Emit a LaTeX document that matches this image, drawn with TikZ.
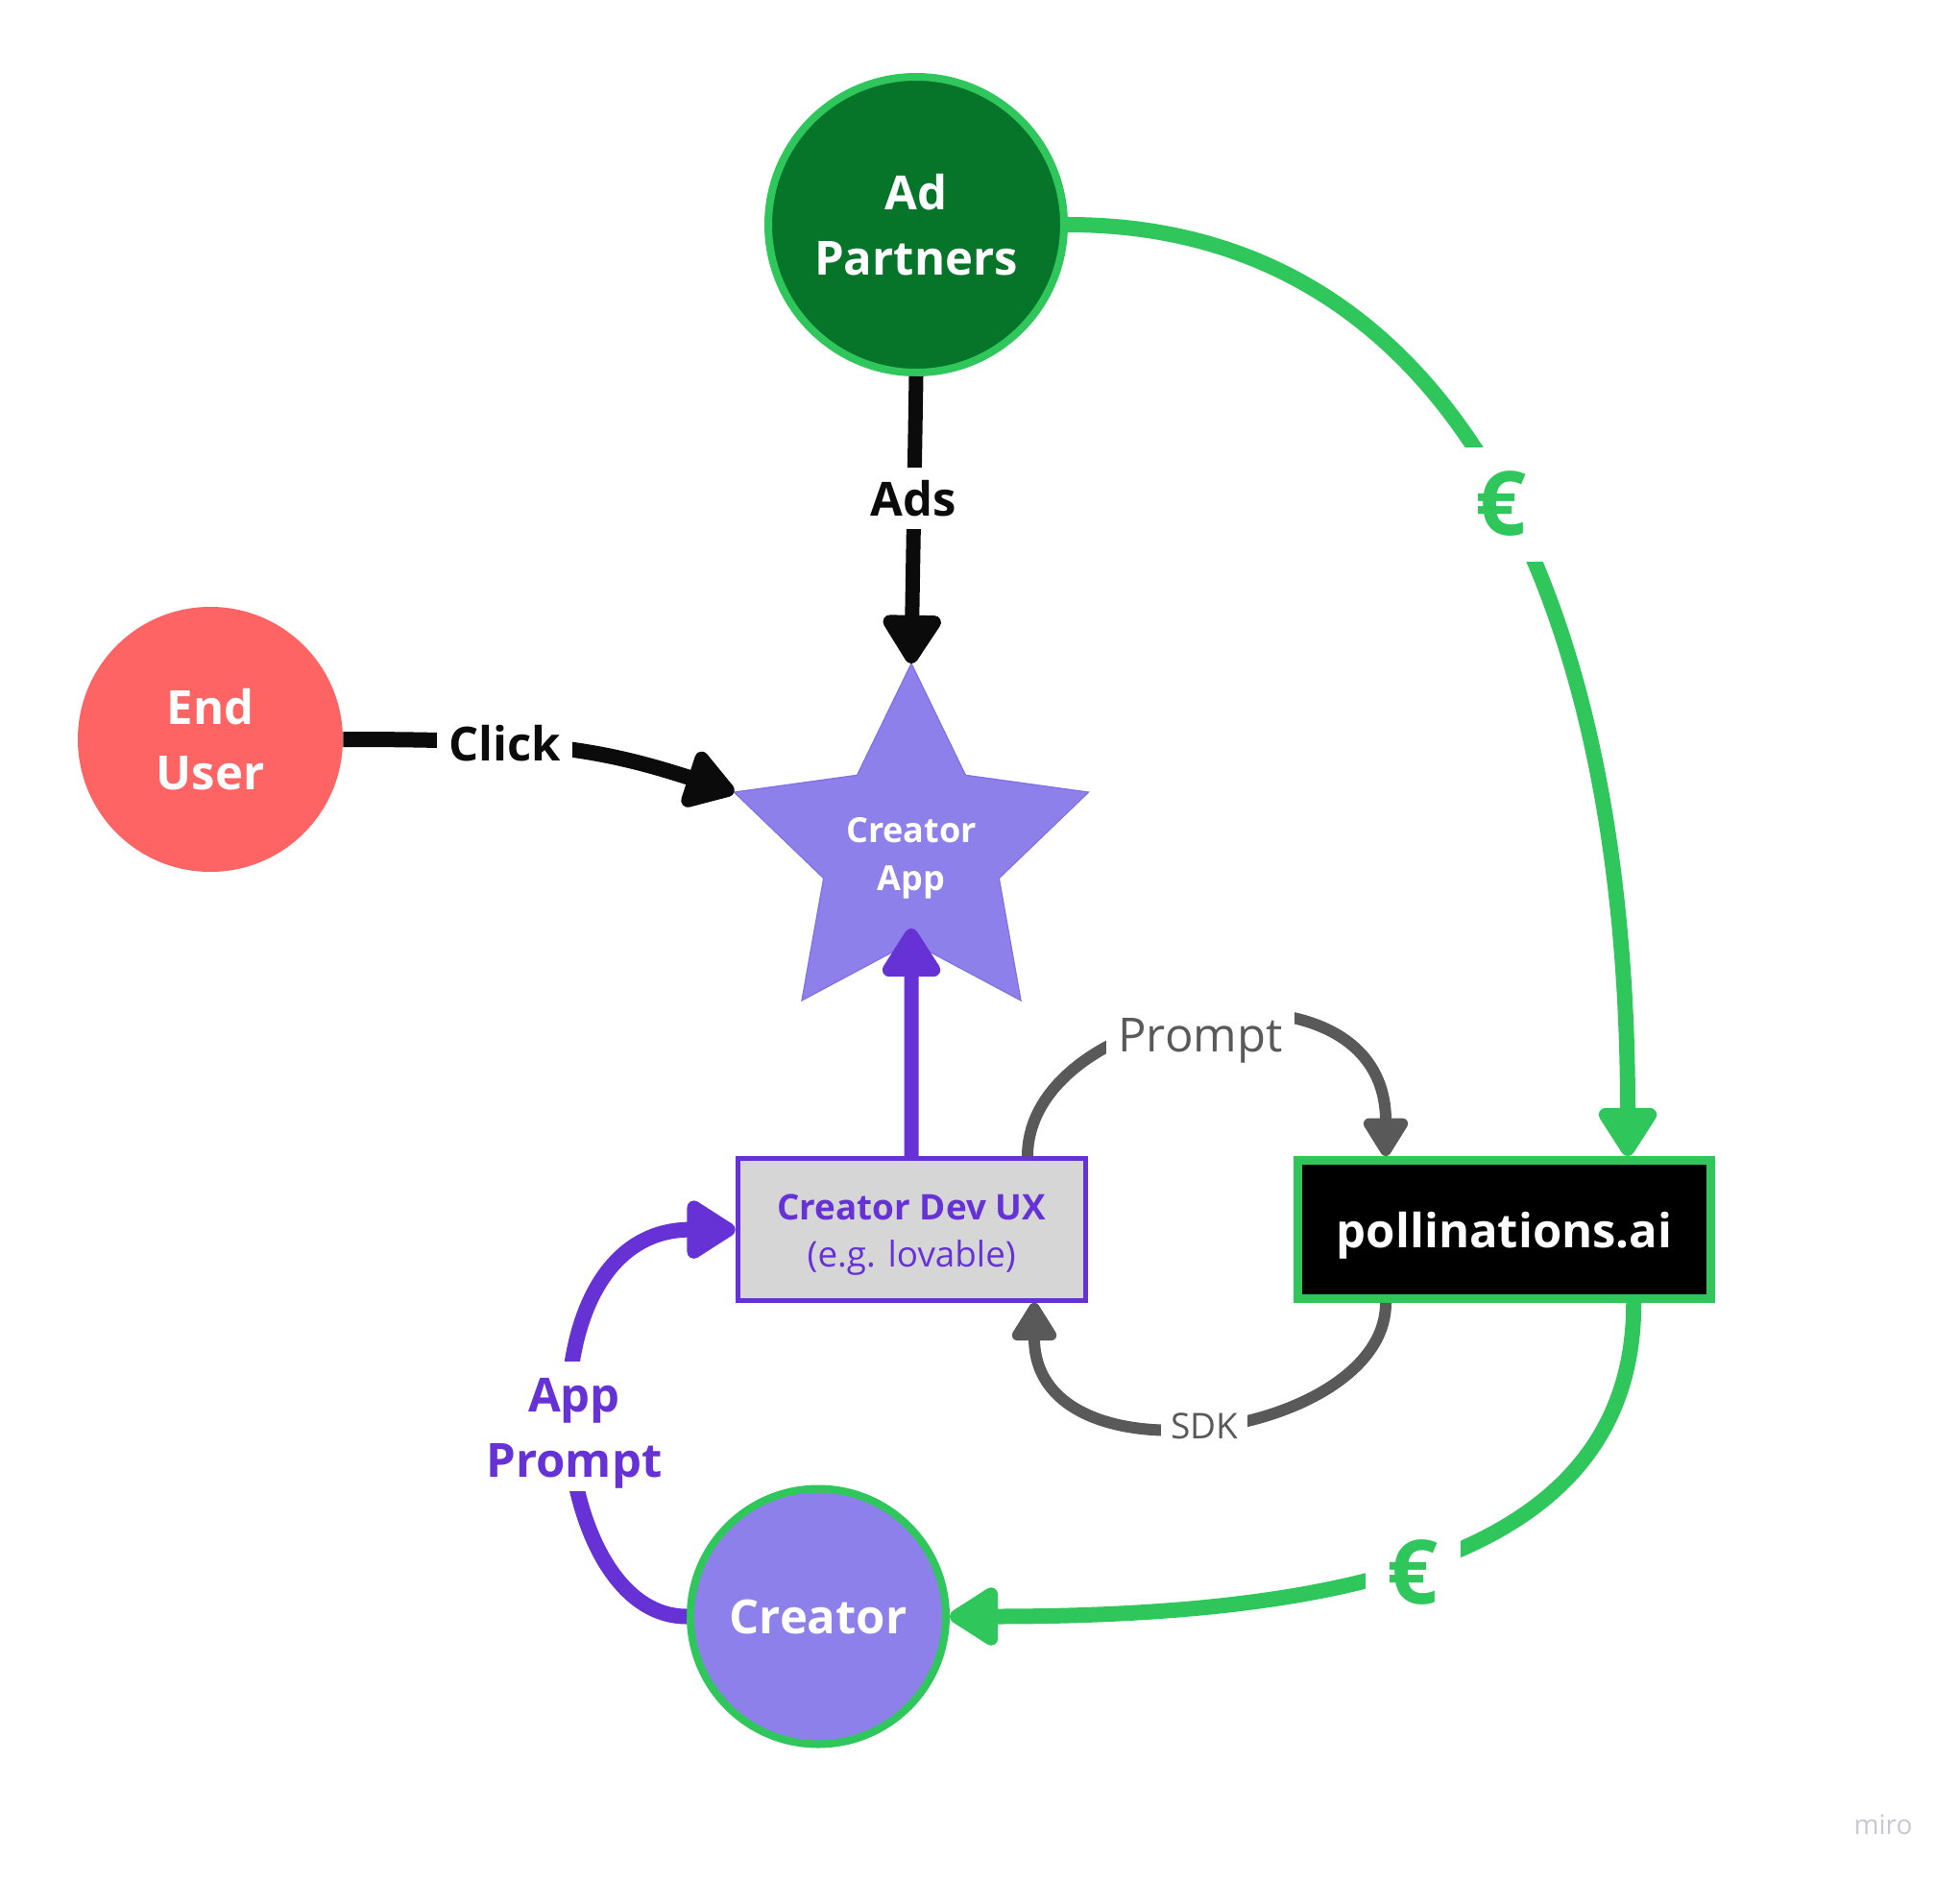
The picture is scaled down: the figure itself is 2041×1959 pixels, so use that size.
\documentclass[tikz,border=0pt]{standalone}
\usepackage{fontspec}
\setmainfont{Open Sans}
\usetikzlibrary{arrows.meta,shapes.geometric,calc}

\definecolor{adgreen}{RGB}{7,117,41}
\definecolor{lgreen}{RGB}{47,199,92}
\definecolor{coral}{RGB}{255,100,100}
\definecolor{lpurple}{RGB}{142,128,235}
\definecolor{starline}{RGB}{128,112,228}
\definecolor{dpurple}{RGB}{102,50,214}
\definecolor{boxgray}{RGB}{214,214,214}
\definecolor{dgray}{RGB}{89,89,89}
\definecolor{inkblack}{RGB}{11,11,11}
\definecolor{wmgray}{RGB}{200,200,212}

\begin{document}
\begin{tikzpicture}[x=0.5pt,y=-0.5pt,
  bigfont/.style={font=\fontsize{24.5pt}{34pt}\selectfont\bfseries},
  circ/.style={circle, inner sep=0pt, align=center, text=white, bigfont},
  bigtip/.style={-{Triangle[length=28.5pt,width=34pt,round]}},
  smalltip/.style={-{Triangle[length=22.5pt,width=26pt,round]}},
  mask/.style={fill=white, inner sep=0pt, align=center},
  eurofont/.style={font=\fontsize{46.5pt}{50pt}\selectfont\bfseries},
]
\useasboundingbox (0,0) rectangle (2041,1959);
\fill[white] (0,0) rectangle (2041,1959);

% ---------- nodes ----------
\node[circ, fill=adgreen, draw=lgreen, line width=4pt, minimum size=154pt] (ad) at (954,234) {Ad\\Partners};
\node[circ, fill=coral, minimum size=138pt] (eu) at (219,770) {End\\User};
\node[star, star points=5, star point ratio=2.02, fill=lpurple, draw=starline, line width=0.6pt,
      minimum size=191.7pt, inner sep=0pt, outer sep=0pt, text=white, align=center,
      font=\fontsize{18pt}{25pt}\selectfont\bfseries] (app) at (949,885) {\rule{0pt}{21.7pt}Creator\\App};
\node[rectangle, fill=boxgray, draw=dpurple, line width=2.5pt, minimum width=181pt, minimum height=73.7pt,
      inner sep=0pt, align=center, text=dpurple, font=\fontsize{18.4pt}{24.25pt}\selectfont] (dev) at (949.2,1280.6)
      {\textbf{\rule{0pt}{19pt}Creator Dev UX}\\(e.g. lovable)};
\node[rectangle, fill=black, draw=lgreen, line width=4.3pt, minimum width=215pt, minimum height=72.2pt,
      inner sep=0pt, text=white, bigfont, text depth=0pt] (poll) at (1566.75,1280.5) {pollinations.ai};
\node[circ, fill=lpurple, draw=lgreen, line width=4pt, minimum size=133pt] (cr) at (852,1683.5) {Creator};
\coordinate (apptip) at ($(app.center)+(0,82)$);

% ---------- connectors ----------
\draw[inkblack, line width=7.5pt, bigtip] (ad.south) -- (app.outer point 1);
\draw[inkblack, line width=8pt, bigtip] (eu.east) .. controls +(200,0) and +(-142.7,-46.4) .. (app.outer point 2);
\draw[dpurple, line width=7.5pt, bigtip] (dev.north) -- (apptip);
\draw[lgreen, line width=8pt, bigtip] (ad.east) .. controls +(400,0) and +(0,-580) .. ($(poll.north)+(128.25,0)$);
\draw[lgreen, line width=8pt, bigtip] ($(poll.south)+(134.5,0)$) .. controls +(0,250) and +(450,0) .. (cr.east);
\draw[dgray, line width=6pt, smalltip] ($(dev.north)+(120.8,0)$) .. controls +(0,-160) and +(0,-220) .. ($(poll.north)+(-123.75,0)$);
\draw[dgray, line width=6pt, smalltip] ($(poll.south)+(-123.75,0)$) .. controls +(0,140) and +(0,195) .. ($(dev.south)+(127.8,0)$);
\draw[dpurple, line width=8pt, bigtip] (cr.west) .. controls +(-150,0) and +(-230,0) .. (dev.west);

% ---------- connector labels ----------
\node[mask, bigfont, text=inkblack, minimum height=32pt] (adslbl) at (951,519) {Ads};
\node[mask, bigfont, text=inkblack, minimum width=70.5pt, minimum height=32pt] (clicklbl) at (525.5,773.7) {Click};
\node[mask, eurofont, text=lgreen, minimum width=49.5pt, minimum height=59.5pt] (eurtop) at (1563.5,525) {€};
\node[mask, eurofont, text=lgreen, minimum width=49.5pt, minimum height=59.5pt] (eurbot) at (1471,1637) {€};
\node[mask, font=\fontsize{24.5pt}{30pt}\selectfont, text=dgray, minimum width=98pt, minimum height=35pt] (promptlbl) at (1250,1083.4) {Prompt};
\node[mask, font=\fontsize{18.5pt}{22pt}\selectfont, text=dgray, minimum width=45pt, minimum height=25pt] (sdklbl) at (1254,1485) {SDK};
\node[mask, bigfont, text=dpurple, minimum height=67.5pt] (applbl) at (598,1485) {\rule{0pt}{25pt}App\\Prompt};

\node[text=wmgray, font=\fontsize{14pt}{16pt}\selectfont, inner sep=0pt] (miro) at (1961,1900) {miro};
\end{tikzpicture}
\end{document}
